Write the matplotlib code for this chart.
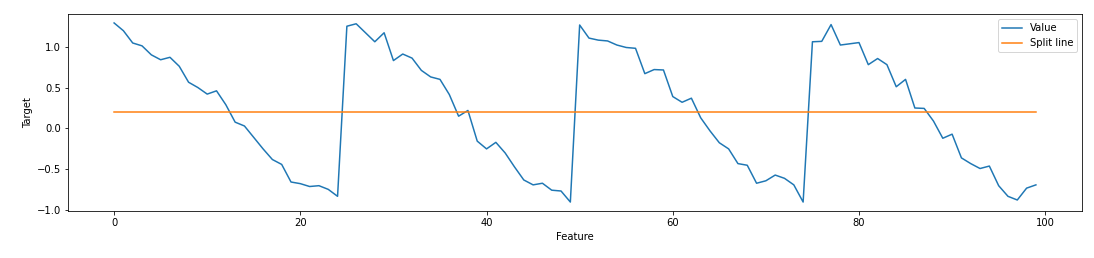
import numpy as np
import matplotlib
matplotlib.use('Agg')
import matplotlib.pyplot as plt

value = [1.29, 1.195, 1.045, 1.01, 0.90, 0.84, 0.87, 0.76, 0.565, 0.50,
         0.42, 0.46, 0.29, 0.077, 0.03, -0.11, -0.25, -0.38, -0.44, -0.655,
         -0.675, -0.71, -0.70, -0.745, -0.83, 1.25, 1.28, 1.17, 1.06, 1.17,
         0.83, 0.91, 0.86, 0.71, 0.63, 0.60, 0.415, 0.15, 0.22, -0.155,
         -0.25, -0.17, -0.30, -0.47, -0.63, -0.69, -0.67, -0.755, -0.765, -0.90,
         1.265, 1.105, 1.08, 1.07, 1.02, 0.99, 0.98, 0.67, 0.72, 0.715,
         0.39, 0.32, 0.37, 0.13, -0.03, -0.175, -0.25, -0.43, -0.45, -0.67,
         -0.64, -0.57, -0.61, -0.69, -0.90, 1.06, 1.065, 1.27, 1.02, 1.035,
         1.05, 0.78, 0.855, 0.78, 0.51, 0.60, 0.25, 0.245, 0.09, -0.12,
         -0.07, -0.36, -0.43, -0.49, -0.46, -0.70, -0.83, -0.875, -0.73, -0.69]
feature = np.arange(len(value))
split = 0.2

fig = plt.figure(figsize=(1094/72, 258/72), dpi=72)
ax = fig.add_axes([68/1094, 1 - 211/258, (1082 - 68)/1094, (211 - 14)/258])

ax.plot(feature, value, label='Value')
ax.plot(feature, [split] * len(feature), label='Split line')
ax.set_xlabel('Feature')
ax.set_ylabel('Target')
ax.legend()

fig.savefig('out.png', dpi=72)
